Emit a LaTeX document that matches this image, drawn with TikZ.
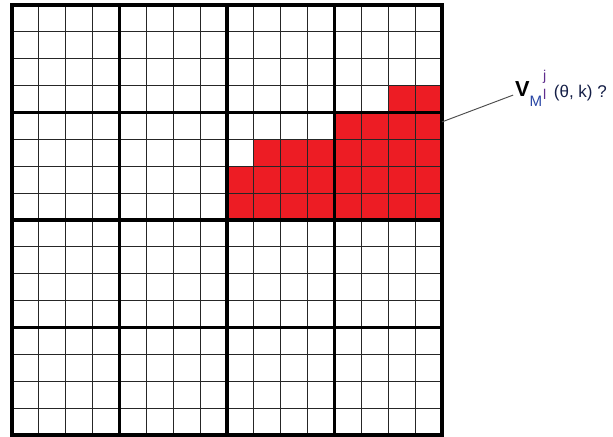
\documentclass[tikz,border=0pt]{standalone}
\usepackage{fontspec}
\setmainfont{Liberation Sans}
\definecolor{cellred}{RGB}{237,28,36}
\definecolor{subblue}{RGB}{40,70,165}
\definecolor{idxpurple}{RGB}{95,45,140}
\definecolor{argnavy}{RGB}{20,30,70}
\tikzset{
    cellline/.style={line width=0.8pt, black!85},
    blockline/.style={line width=4pt},
    leader/.style={line width=1pt, black!70}
}
\begin{document}
\begin{tikzpicture}
        \useasboundingbox (-0.4465,-0.0744) rectangle (22.363,16.186);

        \fill[cellred] (14,12) rectangle (16,13);
        \fill[cellred] (12,11) rectangle (16,12);
        \fill[cellred] (9,10) rectangle (16,11);
        \fill[cellred] (8,8) rectangle (16,10);

        \foreach \i in {1,...,15} {
            \draw[cellline] (\i,0) -- (\i,16);
            \draw[cellline] (0,\i) -- (16,\i);
        }
        \foreach \i in {4,8,12} {
            \draw[blockline] (\i,0) -- (\i,16);
            \draw[blockline] (0,\i) -- (16,\i);
        }
        \draw[blockline] (0,0) rectangle (16,16);

        \coordinate (gridedge) at (16,11.65);
        \node[anchor=base west, inner sep=0pt] (vlabel) at (18.716,12.577) {%
            \fontsize{23}{23}\selectfont\textbf{V}%
            \raisebox{-10pt}{\color{subblue}\fontsize{16}{16}\selectfont M}%
            \hspace{1pt}%
            \rlap{\raisebox{17pt}{\color{idxpurple}\fontsize{15}{15}\selectfont j}}%
            \raisebox{-3pt}{\color{idxpurple}\fontsize{15}{15}\selectfont l}%
            \hspace{8pt}%
            \raisebox{-1pt}{\color{argnavy}\fontsize{18}{18}\selectfont (θ, k)\hspace{5pt}?}%
        };
        \draw[leader] (gridedge) -- ([xshift=-2pt,yshift=2pt]vlabel.base west);
    \end{tikzpicture}
\end{document}
